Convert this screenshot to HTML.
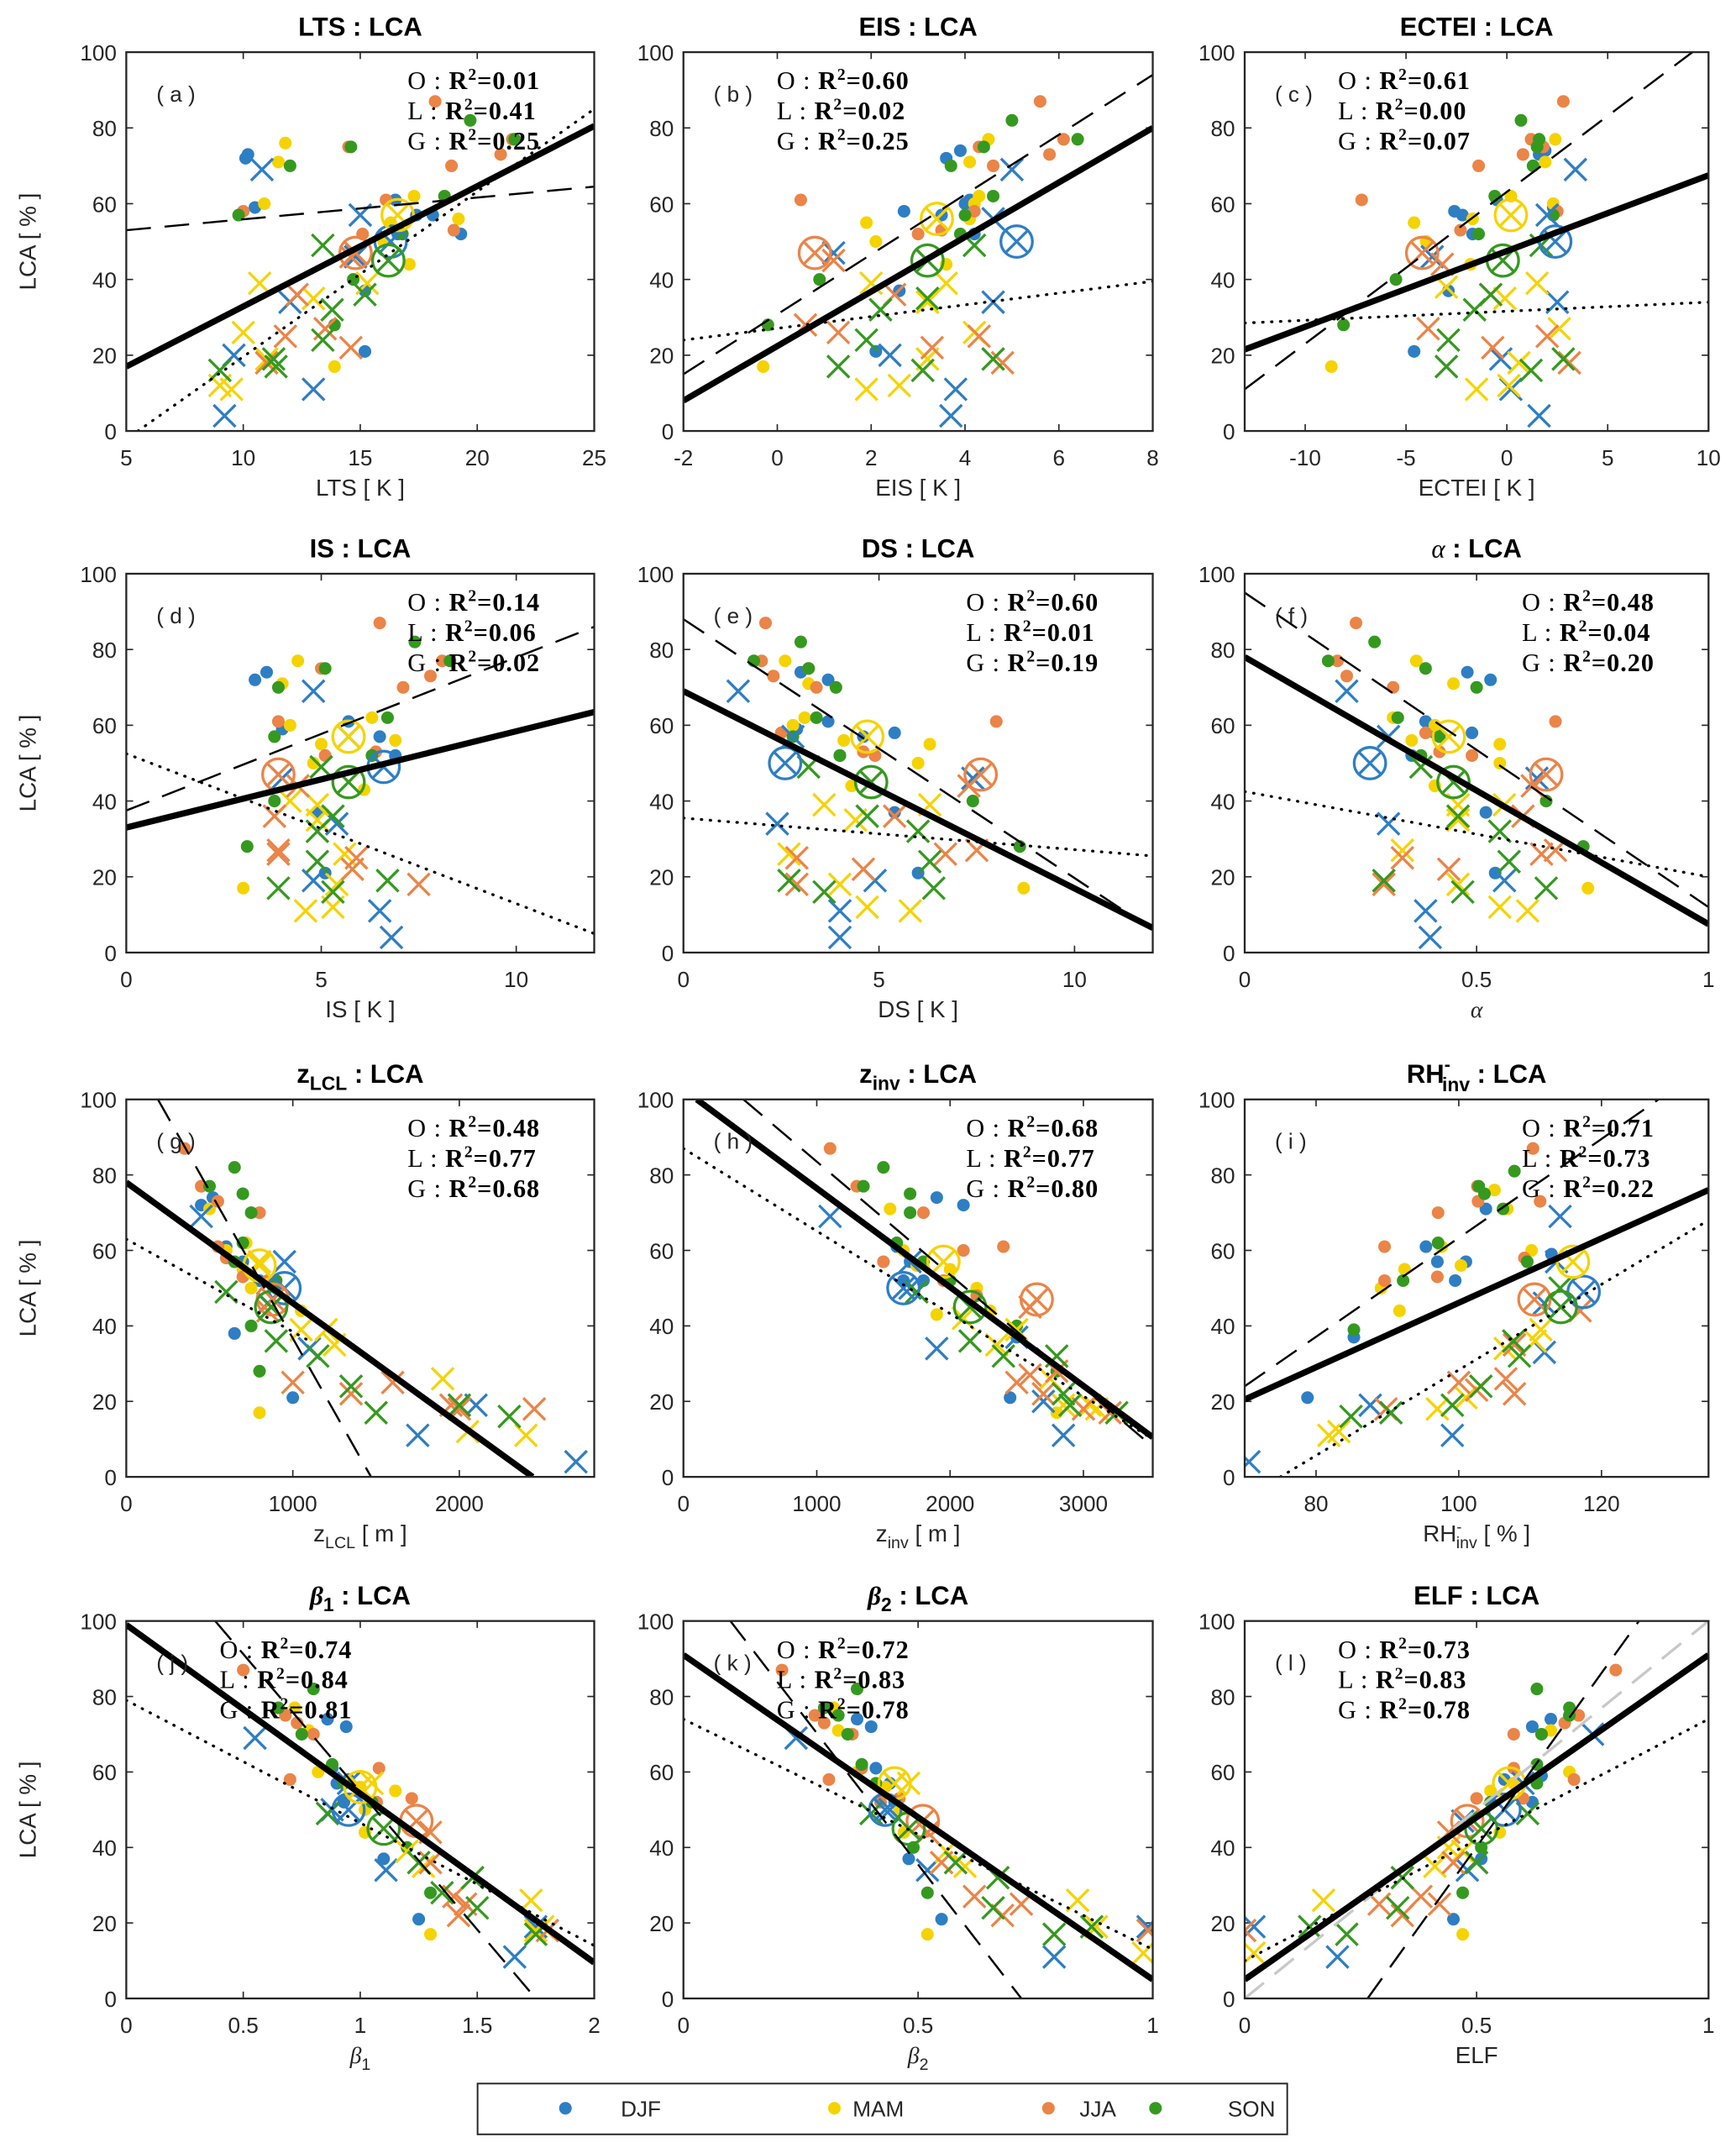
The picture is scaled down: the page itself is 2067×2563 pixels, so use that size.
<!DOCTYPE html>
<html><head><meta charset="utf-8">
<style>
html,body{margin:0;padding:0;background:#fff;}
svg{display:block;}
text{font-family:"Liberation Sans",sans-serif;}
.tk{font-size:16px;fill:#262626;}
.ttl{font-size:19px;font-weight:bold;fill:#000;}
.xl{font-size:17px;fill:#262626;}
.r2{font-family:"Liberation Serif",serif;font-size:18.5px;fill:#000;letter-spacing:0.6px;}
</style></head>
<body>
<svg id="fig" xmlns="http://www.w3.org/2000/svg" width="2067" height="2563" viewBox="0 0 1265 1568.6"></svg>
<script>
// ===== data: colours per season =====
const seasons = ["DJF","MAM","JJA","SON"];
const seasonColors = ["#2E7EC4","#F5D300","#EB8447","#35991F"];
// R2 values per panel [O, L, G]
const r2O = ["0.01","0.60","0.61","0.14","0.60","0.48","0.48","0.68","0.71","0.74","0.72","0.73"];
const r2L = ["0.41","0.02","0.00","0.06","0.01","0.04","0.77","0.77","0.73","0.84","0.83","0.83"];
const r2G = ["0.25","0.25","0.07","0.02","0.19","0.20","0.68","0.80","0.22","0.81","0.78","0.78"];
const yTicks = [0,20,40,60,80,100];
// fit lines per panel: [x0,y0,x1,y1] for G (solid), O (dashed), L (dotted)
const fitG = [[5,17,25,80.5],[-2,8,8,80],[-13,21.5,10,67.5],[0,33,12,63.5],[0,69,12,6.5],[0,78,1,7.5],[0,78,2440,0],[100,100,3520,10.5],[70,20.5,135,76],[0,99,2,9.5],[0,91,1,5],[0,5,1,91]];
const fitO = [[5,53,25,64.5],[-2,15,8,94],[-13,11,9.2,100],[0,37.5,12,86],[0,88,12,6],[0,95,1,12],[190,100,1470,0],[450,100,3520,8],[70,24,128,100],[0.38,100,1.75,0],[0.1,100,0.72,0],[0.265,0,0.85,100]];
const fitL = [[5.5,0,25,85],[-2,24,8,39.5],[-13,28.5,10,34],[0,52.5,12,5],[0,35.5,12,25.5],[0,42.5,1,20],[0,63,1100,36],[0,87,3520,10],[75,0,135,68],[0,79,2,14],[0,74,1,13],[0,10,1,74]];
const oneToOne = [0,0,1,100];
// dots: [season, x, y]
const dotsA = [[0,10.2,73],[0,10.1,72],[0,10.5,59],[0,16.5,61],[0,17.4,57],[0,18.1,57],[0,19.3,52],[0,15.2,21],[0,15.2,37],[0,16.6,52],[1,11.8,76],[1,11.5,71],[1,10.9,60],[1,17.3,62],[1,19.2,56],[1,16.3,55],[1,17.1,44],[1,13.9,17],[1,16,50],[2,10,58],[2,14.5,75],[2,16.1,61],[2,15.1,52],[2,18.2,87],[2,18.9,70],[2,19,53],[2,21,73],[2,21.5,77],[3,9.8,57],[3,12,70],[3,14.6,75],[3,18.6,62],[3,19.7,82],[3,21.6,77],[3,14.7,40],[3,13.9,28],[3,16.8,52]];
const dotsB = [[0,3.6,72],[0,3.9,74],[0,2.7,58],[0,3.5,57],[0,4,60],[0,4.1,61],[0,4.2,52],[0,2.1,21],[0,2.6,37],[1,1.9,55],[1,2.1,50],[1,4.1,71],[1,4.5,77],[1,4.2,60],[1,4.3,62],[1,4.1,56],[1,3.6,44],[1,-0.3,17],[2,0.5,61],[2,3,52],[2,3.5,53],[2,4.3,75],[2,4.6,70],[2,4.2,58],[2,5.6,87],[2,5.8,73],[2,6.1,77],[3,-0.2,28],[3,0.9,40],[3,3.7,70],[3,4,57],[3,3.9,52],[3,4.4,75],[3,4.6,62],[3,5,82],[3,6.4,77]];
const dotsC = [[0,-2.6,58],[0,-2.2,57],[0,-1.7,52],[0,1.9,74],[0,1.6,73],[0,2.3,59],[0,-2.9,37],[0,-4.6,21],[0,-0.5,61],[1,-4.6,55],[1,-1.7,56],[1,0.2,62],[1,2.4,77],[1,1.9,71],[1,2.3,60],[1,-1.8,44],[1,-8.7,17],[1,-4,50],[2,-7.2,61],[2,-2.3,53],[2,-1.4,70],[2,1.2,77],[2,0.8,73],[2,1.8,75],[2,2.8,87],[2,2.5,58],[3,-8.1,28],[3,-5.5,40],[3,-0.6,62],[3,-1.4,52],[3,0.7,82],[3,1.6,77],[3,1.3,70],[3,2.3,57],[3,1.5,75]];
const dotsD = [[0,3.3,72],[0,3.6,74],[0,5.7,61],[0,6.5,57],[0,6.9,52],[0,4.9,37],[0,5.1,21],[0,4,59],[1,4.4,77],[1,4,71],[1,4.2,60],[1,5,55],[1,4.8,50],[1,6.3,62],[1,6.9,56],[1,6.1,43],[1,3,17],[2,5,75],[2,3.9,61],[2,5.1,52],[2,6.5,87],[2,7.1,70],[2,7.8,73],[2,8.1,77],[2,6.4,53],[3,3.9,70],[3,5.1,75],[3,3.8,57],[3,3.8,40],[3,3.1,28],[3,6.3,52],[3,6.7,62],[3,7.4,82],[3,8.3,77]];
const dotsE = [[0,3,74],[0,3.7,72],[0,3.7,61],[0,2.9,59],[0,4.6,57],[0,5.4,58],[0,5.4,37],[0,6,21],[0,4,52],[1,2.6,77],[1,3.2,71],[1,3.1,62],[1,2.8,60],[1,4.1,56],[1,6.3,55],[1,6,50],[1,4.3,44],[1,8.7,17],[2,2.1,87],[2,2,77],[2,2.3,73],[2,3.4,70],[2,3.2,75],[2,2.5,58],[2,4.6,53],[2,4.9,52],[2,8,61],[3,1.8,77],[3,3,82],[3,3.2,75],[3,3.9,70],[3,3.4,62],[3,2.8,57],[3,4,52],[3,7.4,40],[3,8.6,28]];
const dotsF = [[0,0.39,61],[0,0.48,74],[0,0.53,72],[0,0.49,58],[0,0.36,52],[0,0.52,37],[0,0.54,21],[0,0.41,58],[1,0.37,77],[1,0.45,71],[1,0.41,60],[1,0.36,56],[1,0.55,55],[1,0.55,50],[1,0.41,44],[1,0.32,62],[1,0.74,17],[2,0.24,87],[2,0.2,77],[2,0.22,73],[2,0.32,70],[2,0.39,58],[2,0.42,53],[2,0.49,52],[2,0.67,61],[3,0.18,77],[3,0.28,82],[3,0.39,75],[3,0.5,70],[3,0.33,62],[3,0.42,57],[3,0.38,52],[3,0.65,40],[3,0.73,28]];
const dotsG = [[0,450,72],[0,520,74],[0,600,61],[0,700,57],[0,800,52],[0,900,50],[0,1000,21],[0,650,38],[1,450,77],[1,500,71],[1,600,60],[1,700,55],[1,750,50],[1,800,17],[1,1050,44],[1,720,62],[2,350,87],[2,450,77],[2,550,73],[2,600,58],[2,800,70],[2,700,53],[2,550,61],[2,850,52],[3,500,77],[3,650,82],[3,700,75],[3,750,70],[3,700,62],[3,650,57],[3,800,28],[3,750,40],[3,900,52]];
const dotsH = [[0,1600,61],[0,1700,57],[0,1900,74],[0,2100,72],[0,1800,52],[0,2500,37],[0,2450,21],[0,1650,52],[1,1300,77],[1,1550,71],[1,1650,60],[1,2000,55],[1,1900,43],[1,2200,50],[1,2300,44],[1,2800,17],[1,1750,56],[2,1100,87],[2,1300,77],[2,1500,57],[2,1800,70],[2,1950,52],[2,2400,61],[2,2100,60],[2,2200,48],[3,1350,77],[3,1500,82],[3,1600,62],[3,1700,70],[3,1800,57],[3,2000,52],[3,2500,40],[3,2800,28],[3,1700,75]];
const dotsI = [[0,78.8,21],[0,85.3,37],[0,95.4,61],[0,97,57],[0,99.5,52],[0,101,57],[0,103.8,71],[0,113,59],[1,89.1,50],[1,91.7,44],[1,92.4,55],[1,97.6,61],[1,100.3,56],[1,105,76],[1,106.8,71],[1,110.2,60],[2,89.6,61],[2,89.6,52],[2,97.1,70],[2,97,53],[2,102.6,77],[2,102.7,73],[2,109.2,58],[2,110.4,87],[2,111.4,73],[3,85.3,39],[3,92.2,52],[3,97.1,62],[3,102.8,77],[3,103.6,75],[3,106.2,71],[3,107.8,81],[3,109.6,57]];
const dotsJ = [[0,0.86,74],[0,0.94,72],[0,0.88,61],[0,0.9,57],[0,0.93,52],[0,1.1,37],[0,1.25,21],[0,0.95,58],[1,0.72,77],[1,0.78,71],[1,0.82,60],[1,1,56],[1,1.02,50],[1,1.02,44],[1,1.3,17],[1,1.15,55],[2,0.5,87],[2,0.68,75],[2,0.73,73],[2,0.8,70],[2,0.7,58],[2,1.07,52],[2,1.08,61],[2,1.22,53],[3,0.65,77],[3,0.8,82],[3,0.75,70],[3,0.88,62],[3,0.93,57],[3,1.2,40],[3,1.3,28],[3,1.05,52]];
const dotsK = [[0,0.37,74],[0,0.4,72],[0,0.41,61],[0,0.44,57],[0,0.45,52],[0,0.48,37],[0,0.55,21],[1,0.32,77],[1,0.33,71],[1,0.37,60],[1,0.43,56],[1,0.46,50],[1,0.47,44],[1,0.52,17],[2,0.21,87],[2,0.28,75],[2,0.3,73],[2,0.31,58],[2,0.42,52],[2,0.36,70],[2,0.46,53],[2,0.38,61],[3,0.3,77],[3,0.37,82],[3,0.35,70],[3,0.38,62],[3,0.41,57],[3,0.49,40],[3,0.52,28],[3,0.33,75]];
const dotsL = [[0,0.62,72],[0,0.66,74],[0,0.64,59],[0,0.62,52],[0,0.51,37],[0,0.45,21],[0,0.56,58],[1,0.53,55],[1,0.58,57],[1,0.66,71],[1,0.7,60],[1,0.55,44],[1,0.47,17],[2,0.58,70],[2,0.58,61],[2,0.5,53],[2,0.69,73],[2,0.72,75],[2,0.71,58],[2,0.8,87],[2,0.6,53],[3,0.63,82],[3,0.64,70],[3,0.7,77],[3,0.7,75],[3,0.63,62],[3,0.63,57],[3,0.53,52],[3,0.51,40],[3,0.47,28]];
// crosses: [season, x, y]
const crossA = [[0,10.8,69],[0,15,57],[0,9.2,4],[0,9.6,20],[0,12,34],[0,13,11],[0,14.8,46],[1,10.7,39],[1,10,26],[1,9,12],[1,9.5,11],[1,13,35],[1,15.3,39],[1,11,19],[2,12.3,36],[2,11.8,25],[2,13.5,27],[2,14.6,22],[2,11,18],[2,14.6,46],[3,13.4,49],[3,13.8,32],[3,13.4,24],[3,15.2,36],[3,9,16],[3,11.3,19],[3,11.4,17]];
const crossB = [[0,1.2,47],[0,5,69],[0,4.6,56],[0,4.6,34],[0,2.4,20],[0,3.8,11],[0,3.7,4],[1,2,39],[1,3.6,39],[1,3.2,34],[1,4.2,26],[1,3.2,19],[1,1.9,11],[1,2.6,12],[2,1.2,45],[2,2.5,36],[2,0.6,28],[2,1.3,26],[2,3.3,22],[2,4.3,25],[2,4.8,18],[3,3.2,35],[3,2.2,32],[3,1.9,24],[3,1.3,17],[3,3.1,16],[3,4.2,49],[3,4.6,19]];
const crossC = [[0,-3.7,46],[0,2,57],[0,3.4,69],[0,2.5,34],[0,-0.3,19],[0,0.2,11],[0,1.6,4],[1,-3,38],[1,-0.1,35],[1,1.5,39],[1,2.6,27],[1,0.6,18],[1,0.1,12],[1,-1.5,11],[2,-3.9,27],[2,-3.2,44],[2,-0.8,36],[2,-0.7,22],[2,2,25],[2,3.1,18],[3,-2.9,24],[3,-3,17],[3,-1.6,32],[3,-0.8,36],[3,1.2,16],[3,2.8,19],[3,1.7,49]];
const crossD = [[0,4.8,69],[0,5.7,57],[0,4,46],[0,5.4,34],[0,4.8,19],[0,6.5,11],[0,6.8,4],[1,4.2,40],[1,4.9,39],[1,4.9,35],[1,5.6,26],[1,5.4,18],[1,4.6,11],[1,5.3,12],[2,4.4,44],[2,3.8,36],[2,3.9,27],[2,3.9,26],[2,5.9,25],[2,5.8,22],[2,7.5,18],[3,5,49],[3,4.9,32],[3,5.3,36],[3,4.9,24],[3,3.9,17],[3,5.3,16],[3,6.7,19]];
const crossE = [[0,1.4,69],[0,2.8,57],[0,2.4,34],[0,4,11],[0,4,4],[0,4.9,19],[0,7.4,46],[1,3.6,39],[1,4.4,35],[1,6.3,39],[1,2.7,26],[1,4,18],[1,4.7,12],[1,5.8,11],[2,5.4,36],[2,2.9,25],[2,2.9,18],[2,4.6,22],[2,6.7,26],[2,7.5,27],[2,7.3,44],[3,3.2,49],[3,4.7,36],[3,6,32],[3,6.3,24],[3,6.4,17],[3,2.7,19],[3,3.6,16]];
const crossF = [[0,0.22,69],[0,0.31,57],[0,0.31,34],[0,0.39,11],[0,0.4,4],[0,0.56,19],[0,0.63,46],[1,0.46,39],[1,0.46,35],[1,0.56,39],[1,0.34,27],[1,0.46,18],[1,0.55,12],[1,0.61,11],[2,0.6,36],[2,0.34,25],[2,0.3,18],[2,0.44,22],[2,0.64,26],[2,0.67,27],[2,0.62,44],[3,0.38,49],[3,0.46,36],[3,0.55,32],[3,0.57,24],[3,0.65,17],[3,0.3,19],[3,0.47,16]];
const crossG = [[0,450,69],[0,950,57],[0,1100,34],[0,1750,11],[0,2100,19],[0,2700,4],[0,850,46],[1,1050,39],[1,1250,35],[1,1900,26],[1,2050,12],[1,2400,11],[1,1200,39],[1,800,57],[2,1000,25],[2,1600,25],[2,1350,22],[2,2000,18],[2,2450,18],[2,1950,19],[2,850,44],[3,600,49],[3,900,36],[3,1150,32],[3,1350,24],[3,1500,17],[3,2000,19],[3,2300,16]];
const crossH = [[0,1100,69],[0,1700,57],[0,1900,34],[0,2500,37],[0,2700,20],[0,2850,11],[0,1700,50],[1,2100,42],[1,2350,35],[1,2500,39],[1,2750,26],[1,2850,19],[1,3050,19],[1,3100,18],[2,2500,25],[2,2600,27],[2,2700,22],[2,2800,28],[2,3000,18],[2,3200,17],[2,2600,45],[3,2150,36],[3,2400,32],[3,2800,32],[3,2850,22],[3,2900,19],[3,3250,17],[3,1750,49]];
const crossI = [[0,70.6,4],[0,87.6,19],[0,99.1,11],[0,112,33],[0,113.7,57],[0,114.2,69],[0,112,46],[1,81.8,11],[1,83.2,12],[1,97,18],[1,101,21],[1,106.5,34],[1,110.7,36],[1,111.5,39],[2,89.8,18],[2,100,25],[2,102.5,23],[2,106.6,26],[2,107.8,22],[2,107.8,35],[2,117,44],[3,84.9,16],[3,90.5,17],[3,99.1,19],[3,103.1,24],[3,107.7,36],[3,108.5,32],[3,114.2,50]];
const crossJ = [[0,0.55,69],[0,0.95,57],[0,1.11,34],[0,1.66,11],[0,1.75,19],[0,0.88,50],[1,1.05,57],[1,1.2,39],[1,1.27,35],[1,1.73,26],[1,1.78,19],[1,1.75,18],[2,1.3,44],[2,1.3,36],[2,1.4,27],[2,1.42,22],[2,1.45,25],[2,1.8,18],[3,0.86,49],[3,1.25,36],[3,1.48,32],[3,1.5,24],[3,1.75,17],[3,1.35,28]];
const crossK = [[0,0.24,69],[0,0.45,57],[0,0.52,34],[0,0.79,11],[0,0.99,19],[0,0.44,50],[1,0.48,57],[1,0.56,39],[1,0.6,35],[1,0.84,26],[1,0.98,12],[1,0.88,19],[2,0.52,44],[2,0.55,36],[2,0.62,27],[2,0.68,22],[2,0.99,18],[2,0.72,25],[3,0.4,49],[3,0.58,36],[3,0.67,32],[3,0.66,24],[3,0.79,17],[3,0.87,19]];
const crossL = [[0,0.02,19],[0,0.2,11],[0,0.48,34],[0,0.6,57],[0,0.75,70],[0,0.47,47],[1,0.02,12],[1,0.17,26],[1,0.41,35],[1,0.44,40],[1,0.47,39],[1,0.57,57],[2,0,18],[2,0.29,25],[2,0.34,22],[2,0.38,27],[2,0.42,25],[2,0.45,36],[2,0.44,44],[3,0.14,19],[3,0.22,17],[3,0.33,24],[3,0.34,32],[3,0.5,36],[3,0.61,49]];
// seasonal means (big circles) per panel: [x,y] for DJF, MAM, JJA, SON
const meanA = [[16.3,50],[16.6,57],[14.8,47],[16.2,45]];
const meanB = [[5.1,50],[3.4,56],[0.8,47],[3.2,45]];
const meanC = [[2.4,50],[0.2,57],[-4.2,47],[-0.2,45]];
const meanD = [[6.6,49],[5.7,57],[3.9,47],[5.7,45]];
const meanE = [[2.6,50],[4.7,57],[7.6,47],[4.8,45]];
const meanF = [[0.27,50],[0.44,57],[0.65,47],[0.45,45]];
const meanG = [[950,50],[800,56],[880,47],[870,45]];
const meanH = [[1650,50],[1950,57],[2650,47],[2150,45]];
const meanI = [[117.5,49],[116,57],[110.6,47],[114.3,45]];
const meanJ = [[0.95,50],[1.0,56],[1.24,47],[1.1,45]];
const meanK = [[0.43,50],[0.45,57],[0.51,47],[0.48,45]];
const meanL = [[0.56,50],[0.57,57],[0.48,47],[0.51,45]];
// x ranges & ticks
const xRanges = [[5,25],[-2,8],[-13,10],[0,12],[0,12],[0,1],[0,2810],[0,3520],[70,135],[0,2],[0,1],[0,1]];
const xTicks = [[5,10,15,20,25],[-2,0,2,4,6,8],[-10,-5,0,5,10],[0,5,10],[0,5,10],[0,0.5,1],[0,1000,2000],[0,1000,2000,3000],[80,100,120],[0,0.5,1,1.5,2],[0,0.5,1],[0,0.5,1]];
const xTickLabels = [["5","10","15","20","25"],["-2","0","2","4","6","8"],["-10","-5","0","5","10"],["0","5","10"],["0","5","10"],["0","0.5","1"],["0","1000","2000"],["0","1000","2000","3000"],["80","100","120"],["0","0.5","1","1.5","2"],["0","0.5","1"],["0","0.5","1"]];

const allDots=[dotsA,dotsB,dotsC,dotsD,dotsE,dotsF,dotsG,dotsH,dotsI,dotsJ,dotsK,dotsL];
const allCross=[crossA,crossB,crossC,crossD,crossE,crossF,crossG,crossH,crossI,crossJ,crossK,crossL];
const allMeans=[meanA,meanB,meanC,meanD,meanE,meanF,meanG,meanH,meanI,meanJ,meanK,meanL];

// ===== layout =====
const NS="http://www.w3.org/2000/svg";
const svg=document.getElementById('fig');
const colX=[[92,433],[498,840],[907,1245]];
const rowY=[[38,314],[418,694],[801,1076],[1181,1456]];
const letters="abcdefghijkl";
const titles=[["LTS"],["EIS"],["ECTEI"],["IS"],["DS"],["α"],["z","LCL"],["z","inv"],["RH","inv"],["β","1"],["β","2"],["ELF"]];
const xlabels=[["LTS [ K ]"],["EIS [ K ]"],["ECTEI [ K ]"],["IS [ K ]"],["DS [ K ]"],["α"],["z","LCL"," [ m ]"],["z","inv"," [ m ]"],["RH","inv"," [ % ]"],["β","1"],["β","2"],["ELF"]];
const textRight=[true,false,false,true,true,true,true,true,true,false,false,false];

function mk(tag,attrs,parent){const e=document.createElementNS(NS,tag);for(const k in attrs)e.setAttribute(k,attrs[k]);(parent||svg).appendChild(e);return e;}

for(let p=0;p<12;p++){
  const c=p%3,r=Math.floor(p/3);
  const L=colX[c][0],R=colX[c][1],T=rowY[r][0],B=rowY[r][1];
  const [x0,x1]=xRanges[p];
  const sx=v=>L+(v-x0)/(x1-x0)*(R-L);
  const sy=v=>B-v/100*(B-T);
  const g=mk('g',{});
  
  
  const cp=mk('clipPath',{id:'cp'+p},g);
  mk('rect',{x:L,y:T,width:R-L,height:B-T},cp);
  yTicks.forEach(v=>{
    const y=sy(v);
    mk('line',{x1:L,y1:y,x2:L+5,y2:y,stroke:'#262626','stroke-width':1},g);
    mk('line',{x1:R,y1:y,x2:R-5,y2:y,stroke:'#262626','stroke-width':1},g);
    const t=mk('text',{x:L-7,y:y+6,'text-anchor':'end',class:'tk'},g);
    t.textContent=v;
    
    
  });
  xTicks[p].forEach((v,i)=>{
    const x=sx(v);
    mk('line',{x1:x,y1:B,x2:x,y2:B-5,stroke:'#262626','stroke-width':1},g);
    mk('line',{x1:x,y1:T,x2:x,y2:T+5,stroke:'#262626','stroke-width':1},g);
    const t=mk('text',{x:x,y:B+25,'text-anchor':'middle',class:'tk'},g);
    t.textContent=xTickLabels[p][i];
    
    
  });
  const pg=mk('g',{'clip-path':'url(#cp'+p+')'},g);
  allDots[p].forEach(d=>{
    const e=mk('circle',{cx:sx(d[1]),cy:sy(d[2]),r:4.6,fill:seasonColors[d[0]]},pg);
    
    
  });
  allCross[p].forEach(d=>{
    const x=sx(d[1]),y=sy(d[2]),s=8;
    const e=mk('path',{d:`M${x-s},${y-s}L${x+s},${y+s}M${x-s},${y+s}L${x+s},${y-s}`,stroke:seasonColors[d[0]],'stroke-width':2,fill:'none'},pg);
    
    
  });
  allMeans[p].forEach((d,i)=>{
    const x=sx(d[0]),y=sy(d[1]),s=8;
    const e=mk('g',{stroke:seasonColors[i],'stroke-width':2,fill:'none'},pg);
    
    
    mk('circle',{cx:x,cy:y,r:11.5},e);
    mk('path',{d:`M${x-s},${y-s}L${x+s},${y+s}M${x-s},${y+s}L${x+s},${y-s}`},e);
  });
  if(p===11){
    const l=mk('line',{x1:sx(oneToOne[0]),y1:sy(oneToOne[1]),x2:sx(oneToOne[2]),y2:sy(oneToOne[3]),stroke:'#c8c8c8','stroke-width':2,'stroke-dasharray':'18,10'},pg);
    
    
  }
  const fl=[[fitO[p],'#000',1.5,'18,10','fit-line-obs'],[fitL[p],'#000',2,'0.5,6','fit-line-les'],[fitG[p],'#000',4.5,'','fit-line-gcm']];
  fl.forEach(f=>{
    const a=f[0];
    const l=mk('line',{x1:sx(a[0]),y1:sy(a[1]),x2:sx(a[2]),y2:sy(a[3]),stroke:f[1],'stroke-width':f[2],'stroke-linecap':f[3]==='0.5,6'?'round':'butt'},pg);
    if(f[3])l.setAttribute('stroke-dasharray',f[3]);
    
    
  });
  const fr=mk('rect',{x:L,y:T,width:R-L,height:B-T,fill:'none',stroke:'#262626','stroke-width':1.4},g);
  
  
  const pl=mk('text',{x:L+22,y:T+36,class:'tk','font-size':'17'},g);
  pl.textContent='( '+letters[p]+' )';
  
  
  const tx=textRight[p]?R-136:L+68;
  [['O',r2O[p]],['L',r2L[p]],['G',r2G[p]]].forEach((q,i)=>{
    const t=mk('text',{x:tx,y:T+27+i*22,class:'r2'},g);
    
    
    const a=mk('tspan',{},t);a.textContent=q[0]+' : ';
    const b=mk('tspan',{'font-weight':'bold'},t);b.textContent='R';
    const s2=mk('tspan',{'font-weight':'bold','font-size':'12',dy:'-7'},t);s2.textContent='2';
    const v=mk('tspan',{'font-weight':'bold',dy:'7'},t);v.textContent='='+q[1];
  });
  const tt=titles[p];
  const ti=mk('text',{x:(L+R)/2,y:T-12,'text-anchor':'middle',class:'ttl'},g);
  
  
  if(tt.length===1){
    const a=mk('tspan',{},ti);a.textContent=tt[0];
    if(tt[0]==='α'){a.setAttribute('font-family','Liberation Serif, serif');a.setAttribute('font-style','italic');a.setAttribute('font-weight','normal');}
    const e=mk('tspan',{},ti);e.textContent=' : LCA';
  } else {
    const a=mk('tspan',{},ti);a.textContent=tt[0];
    if(tt[0]==='β'){a.setAttribute('font-family','Liberation Serif, serif');a.setAttribute('font-style','italic');}
    if(tt[0]==='RH'){const m=mk('tspan',{dy:'-9','font-size':'13'},ti);m.textContent='-';const s=mk('tspan',{dy:'15','font-size':'14',dx:'-6'},ti);s.textContent=tt[1];}
    else {const s=mk('tspan',{dy:'5','font-size':'14'},ti);s.textContent=tt[1];}
    const e=mk('tspan',{dy:tt[0]==='RH'?'-6':'-5'},ti);e.textContent=' : LCA';
  }
  const xl=xlabels[p];
  const xt=mk('text',{x:(L+R)/2,y:B+47,'text-anchor':'middle',class:'xl'},g);
  
  
  if(xl.length===1){
    const a=mk('tspan',{},xt);a.textContent=xl[0];
    if(xl[0]==='α'){a.setAttribute('font-family','Liberation Serif, serif');a.setAttribute('font-style','italic');}
  } else {
    const a=mk('tspan',{},xt);a.textContent=xl[0];
    if(xl[0]==='β'){a.setAttribute('font-family','Liberation Serif, serif');a.setAttribute('font-style','italic');}
    if(xl[0]==='RH'){const m=mk('tspan',{dy:'-7','font-size':'11'},xt);m.textContent='-';const s=mk('tspan',{dy:'12','font-size':'12',dx:'-4'},xt);s.textContent=xl[1];}
    else {const s=mk('tspan',{dy:'5','font-size':'12'},xt);s.textContent=xl[1];}
    if(xl[2]){const e=mk('tspan',{dy:'-5'},xt);e.textContent=xl[2];}
  }
  if(c===0){
    const yl=mk('text',{x:0,y:0,'text-anchor':'middle',class:'xl',transform:`translate(26,${(T+B)/2}) rotate(-90)`},g);
    yl.textContent='LCA [ % ]';
    
    
  }
}
const lg=mk('g',{});


mk('rect',{x:348,y:1518,width:590,height:37,fill:'#fff',stroke:'#262626','stroke-width':1.2},lg);
const legDotX=[412,608,764,842];
const legTextX=[467,640,800,912];
seasons.forEach((s,i)=>{
  const d=mk('circle',{cx:legDotX[i],cy:1536,r:4.6,fill:seasonColors[i]},lg);
  
  
  const t=mk('text',{x:legTextX[i],y:1542,'text-anchor':'middle',class:'tk','font-size':'15'},lg);
  t.textContent=s;
  
  
});
</script>
</body></html>
